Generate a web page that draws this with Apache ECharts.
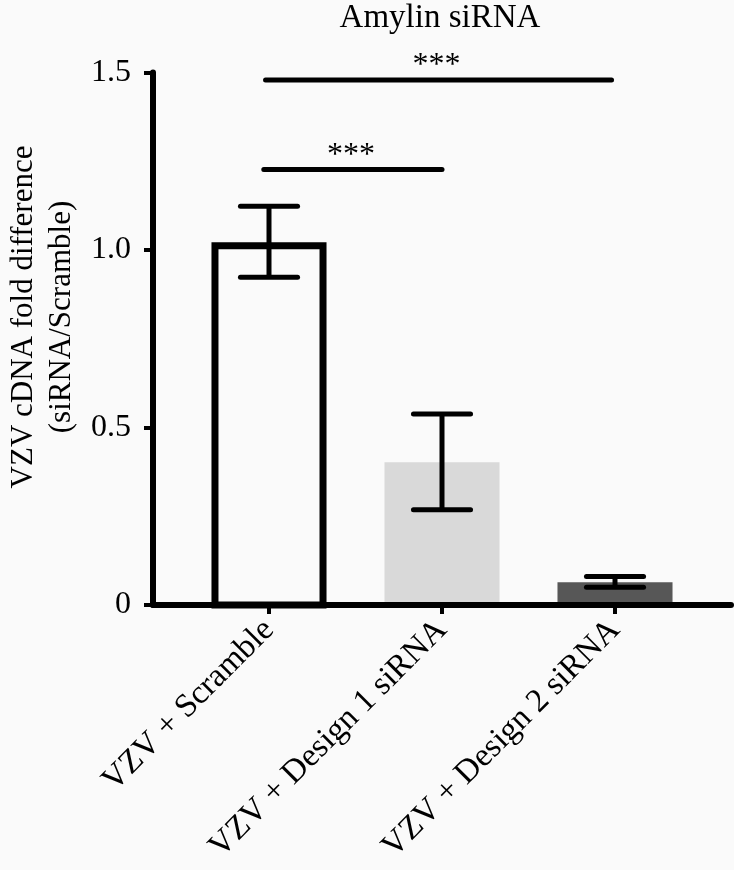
<!DOCTYPE html>
<html>
<head>
<meta charset="utf-8">
<script src="https://cdn.jsdelivr.net/npm/echarts@6/dist/echarts.min.js"></script>
<style>
  html, body { margin: 0; padding: 0; background: #fafafa; }
  #chart { width: 734px; height: 870px; }
</style>
</head>
<body>
<div id="chart"></div>
<script>
// data
const categories = ['VZV + Scramble', 'VZV + Design 1 siRNA', 'VZV + Design 2 siRNA'];
const means = [1.012, 0.402, 0.064];
const errLow = [0.923, 0.268, 0.050];
const errHigh = [1.123, 0.538, 0.080];
const yTicks = [0, 0.5, 1.0, 1.5];
const yTickLabels = ['0', '0.5', '1.0', '1.5'];
const sigStart = [-0.03, -0.02];
const sigEnd = [1.0, 1.98];
const sigLevel = [1.227, 1.479];
const sigText = ['***', '***'];

const FONT = '"Liberation Serif", "DejaVu Serif", serif';
const BAR_W = 0.665;   // bar width in category units
const CAP_W = 0.33;    // error cap width in category units
const barFill = ['#fafafa', '#d9d9d9', '#575757'];

const chart = echarts.init(document.getElementById('chart'));

chart.setOption({
    backgroundColor: '#fafafa',
    animation: false,
    grid: { left: 153, right: 3, top: 72.5, bottom: 265 },
    graphic: [
        {
            type: 'text',
            style: { text: 'Amylin siRNA', x: 440, y: 18, textAlign: 'center', textVerticalAlign: 'middle',
                font: '33px ' + FONT, fill: '#000' }
        },
        {
            type: 'text',
            x: 43, y: 317, rotation: Math.PI / 2,
            style: { text: 'VZV cDNA fold difference\n(siRNA/Scramble)', textAlign: 'center', textVerticalAlign: 'middle',
                font: '31px ' + FONT, lineHeight: 38, fill: '#000' }
        }
    ],
    xAxis: {
        type: 'value',
        min: -0.6705,
        max: 2.6705,
        splitLine: { show: false },
        axisLine: { show: true, onZero: false, lineStyle: { color: '#000', width: 6 } },
        axisTick: { show: true, customValues: [0, 1, 2], length: 9, lineStyle: { color: '#000', width: 4 } },
        axisLabel: {
            customValues: [0, 1, 2],
            formatter: v => categories[Math.round(v)],
            rotate: 45, margin: 20,
            fontFamily: FONT, fontSize: 33, color: '#000'
        }
    },
    yAxis: {
        type: 'value',
        min: 0, max: 1.5, interval: 0.5,
        splitLine: { show: false },
        axisLine: { show: true, onZero: false, lineStyle: { color: '#000', width: 6 } },
        axisTick: { show: true, length: 9, lineStyle: { color: '#000', width: 4 } },
        axisLabel: {
            margin: 22,
            formatter: v => yTickLabels[yTicks.indexOf(v)],
            fontFamily: FONT, fontSize: 32, color: '#000'
        }
    },
    series: [
        {
            // bars
            type: 'custom',
            data: means.map((m, i) => [i, m]),
            renderItem: (params, api) => {
                const i = api.value(0);
                const base = api.coord([i, 0]);
                const top = api.coord([i, api.value(1)]);
                const w = api.size([BAR_W, 0])[0];
                if (i === 0) {
                    return {
                        type: 'rect',
                        shape: { x: base[0] - w / 2 + 3.5, y: top[1], width: w - 7, height: base[1] - top[1] },
                        style: { fill: barFill[i], stroke: '#000', lineWidth: 7 }
                    };
                }
                return {
                    type: 'rect',
                    shape: { x: base[0] - w / 2, y: top[1], width: w, height: base[1] - top[1] - 3 },
                    style: { fill: barFill[i] }
                };
            },
            z: 2
        },
        {
            // error bars
            type: 'custom',
            data: errLow.map((lo, i) => [i, lo, errHigh[i]]),
            renderItem: (params, api) => {
                const i = api.value(0);
                const lo = api.coord([i, api.value(1)]);
                const hi = api.coord([i, api.value(2)]);
                const half = api.size([CAP_W, 0])[0] / 2;
                const st = { stroke: '#000', lineWidth: 5, lineCap: 'round' };
                return {
                    type: 'group',
                    children: [
                        { type: 'line', shape: { x1: lo[0], y1: lo[1], x2: hi[0], y2: hi[1] }, style: { stroke: '#000', lineWidth: 5 } },
                        { type: 'line', shape: { x1: lo[0] - half, y1: lo[1], x2: lo[0] + half, y2: lo[1] }, style: st },
                        { type: 'line', shape: { x1: hi[0] - half, y1: hi[1], x2: hi[0] + half, y2: hi[1] }, style: st }
                    ]
                };
            },
            z: 3
        },
        {
            // significance brackets
            type: 'custom',
            clip: false,
            data: sigLevel.map((y, k) => [sigStart[k], sigEnd[k], y]),
            renderItem: (params, api) => {
                const k = params.dataIndex;
                const a = api.coord([api.value(0), api.value(2)]);
                const b = api.coord([api.value(1), api.value(2)]);
                return {
                    type: 'group',
                    children: [
                        { type: 'line', shape: { x1: a[0], y1: a[1], x2: b[0], y2: b[1] },
                          style: { stroke: '#000', lineWidth: 5, lineCap: 'round' } },
                        { type: 'text', style: { text: sigText[k], x: (a[0] + b[0]) / 2 - 2, y: a[1] + 2,
                          textAlign: 'center', textVerticalAlign: 'bottom', font: '32px ' + FONT, fill: '#000' } }
                    ]
                };
            },
            z: 3
        }
    ]
});
</script>
</body>
</html>
